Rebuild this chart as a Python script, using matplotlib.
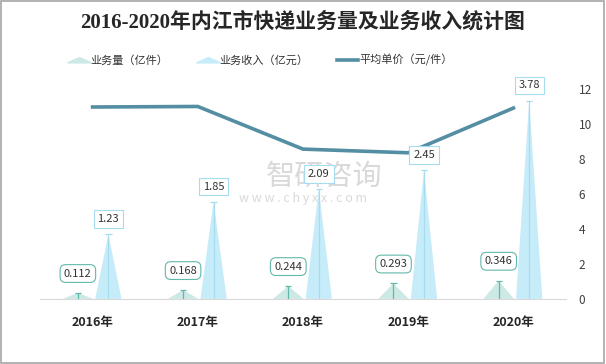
import numpy as np
import matplotlib.pyplot as plt
from matplotlib.patches import Rectangle
from matplotlib.path import Path

plt.rcParams['font.family'] = ['Noto Sans CJK SC', 'DejaVu Sans']

# data
years = ['2016年', '2017年', '2018年', '2019年', '2020年']
volume = [0.112, 0.168, 0.244, 0.293, 0.346]      # 业务量（亿件）
revenue = [1.23, 1.85, 2.09, 2.45, 3.78]         # 业务收入（亿元）
price = [10.98, 11.01, 8.57, 8.36, 10.92]        # 平均单价（元/件）

vol_fill = '#cde9e5'
vol_edge = '#62b8ab'
rev_fill = '#c6ebf9'
rev_edge = '#a5dcef'
line_col = '#538ea3'

fig = plt.figure(figsize=(6.06, 3.64), dpi=100)
ax = fig.add_axes([0.066, 0.179, 0.868, 0.576])
ax2 = ax.twinx()

x = np.arange(len(years))

# triangles, built from the values
def triangles(axis, centers, vals, half, fill):
    for c, v in zip(centers, vals):
        axis.fill([c - half, c, c + half], [0, v, 0], color=fill, lw=0, zorder=2)

xv = x - 0.14
xr = x + 0.15
triangles(ax, xv, volume, 0.145, vol_fill)
triangles(ax, xr, revenue, 0.125, rev_fill)

# leader lines with caps
ax.vlines(xv, 0, volume, color=vol_edge, lw=0.9, zorder=3)
ax.hlines(volume, xv - 0.03, xv + 0.03, color=vol_edge, lw=0.9, zorder=3)
ax.vlines(xr, 0, revenue, color=rev_edge, lw=0.9, zorder=3)
ax.hlines(revenue, xr - 0.03, xr + 0.03, color=rev_edge, lw=0.9, zorder=3)

for c, v in zip(xv, volume):
    ax.annotate(f'{v:.3f}', xy=(c, v), xytext=(0, 14), textcoords='offset points',
                ha='center', va='center', fontsize=8, color='#333333', zorder=6,
                bbox=dict(boxstyle='round,pad=0.35,rounding_size=0.5', fc='white', ec=vol_edge, lw=0.8))
for c, v in zip(xr, revenue):
    ax.annotate(f'{v:.2f}', xy=(c, v), xytext=(0, 11), textcoords='offset points',
                ha='center', va='center', fontsize=8, color='#333333', zorder=6,
                bbox=dict(boxstyle='square,pad=0.35', fc='white', ec=rev_edge, lw=0.8))

ax.set_ylim(0, 4)
ax.set_xlim(-0.5, len(years) - 0.5)
ax.set_yticks([])
ax.set_xticks(x)
ax.set_xticklabels(years, fontsize=9, fontweight='bold', color='#262626')
ax.tick_params(axis='x', length=0, pad=12)
for s in ['top', 'left', 'right']:
    ax.spines[s].set_visible(False)
ax.spines['bottom'].set_color('#d9d9d9')

ax2.plot(x, price, color=line_col, lw=2.6, zorder=4)
ax2.set_ylim(0, 12)
ax2.set_yticks(range(0, 13, 2))
ax2.tick_params(axis='y', length=0, labelsize=8.5, labelcolor='#404040', pad=9)
for s in ['top', 'left', 'right', 'bottom']:
    ax2.spines[s].set_visible(False)
ax.set_zorder(ax2.get_zorder() + 1)
ax.patch.set_visible(False)

# legend, flat triangle markers like the reference
flat_tri = Path([(-1, -0.2), (0, 0.25), (1, -0.2), (-1, -0.2)],
                [Path.MOVETO, Path.LINETO, Path.LINETO, Path.CLOSEPOLY])
h1 = plt.Line2D([], [], marker=flat_tri, ls='none', color=vol_fill, markersize=17)
h2 = plt.Line2D([], [], marker=flat_tri, ls='none', color=rev_fill, markersize=17)
h3 = plt.Line2D([], [], color=line_col, lw=2.6)
fig.legend([h1, h2, h3], ['业务量（亿件）', '业务收入（亿元）', '平均单价（元/件）'],
           loc='center', bbox_to_anchor=(0.43, 0.835), ncol=3, frameon=False,
           fontsize=8, columnspacing=2.6, handlelength=1.9, handletextpad=0.1,
           labelcolor='#333333')

fig.text(0.5, 0.94, '2016-2020年内江市快递业务量及业务收入统计图', ha='center', va='center',
         fontsize=15, fontweight='bold', color='#262626',
         family=['Liberation Serif', 'Noto Sans CJK SC'])

# watermark
fig.text(0.535, 0.515, '智研咨询', ha='center', va='center', fontsize=21,
         color='#d0d0d0', alpha=0.8, zorder=0)
fig.text(0.5, 0.455, 'w w w . c h y x x . c o m', ha='center', va='center', fontsize=9,
         color='#d0d0d0', alpha=0.8, zorder=0)

fig.patches.append(Rectangle((0.001, 0.002), 0.996, 0.995, transform=fig.transFigure,
                             fill=False, ec='#a6a6a6', lw=1.2))

fig.savefig('out.png', dpi=100)
